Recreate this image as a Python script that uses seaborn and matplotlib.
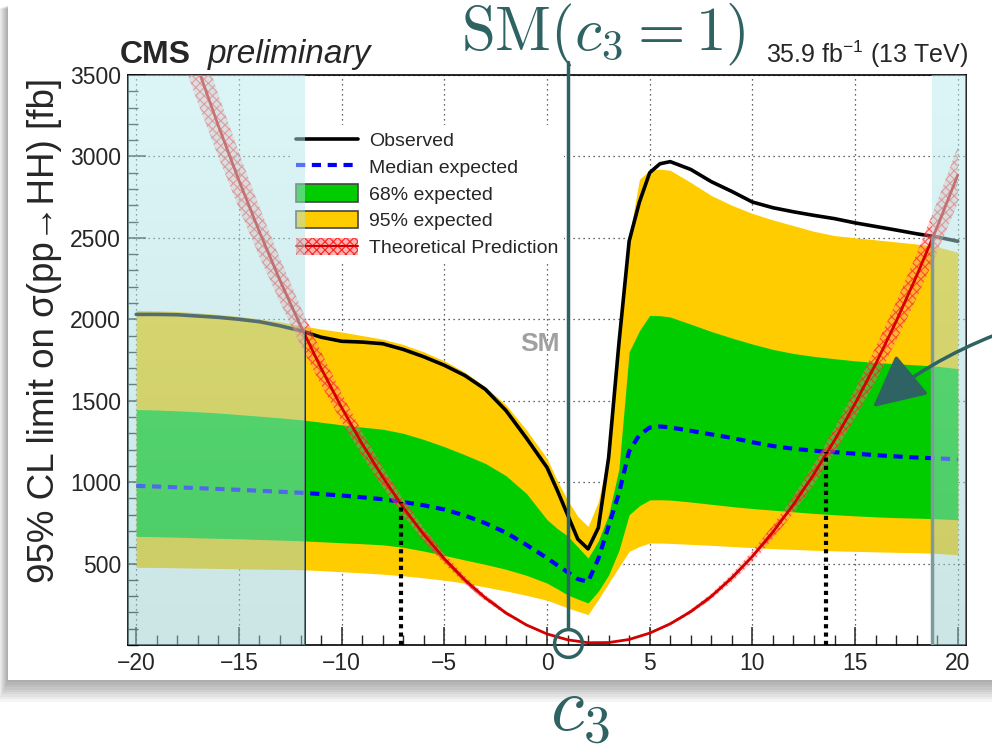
import matplotlib
matplotlib.use("Agg")
import matplotlib.pyplot as plt
from matplotlib.patches import Rectangle, Patch
from matplotlib.lines import Line2D
from matplotlib.ticker import MultipleLocator
import seaborn as sns
import numpy as np
import pandas as pd

# -------------------------
# data
# -------------------------
c3 = [-20, -19, -18, -17, -16, -15, -14, -13, -12, -11, -10, -9, -8, -7, -6, -5, -4, -3, -2, -1, 0,
      0.5, 1, 1.5, 2, 2.5, 3, 3.5, 4, 4.5, 5, 5.5, 6,
      7, 8, 9, 10, 11, 12, 13, 14, 15, 16, 17, 18, 19, 20]

observed = [2030, 2030, 2028, 2020, 2012, 2000, 1985, 1960, 1930, 1890, 1865, 1860, 1850, 1815, 1770, 1718, 1655, 1570, 1440, 1270, 1090,
            950, 800, 650, 590, 720, 1150, 1850, 2480, 2720, 2900, 2955, 2968,
            2920, 2845, 2785, 2720, 2685, 2660, 2638, 2618, 2592, 2570, 2548, 2525, 2505, 2479]

median_exp = [977, 973, 968, 963, 958, 953, 947, 941, 935, 927, 918, 907, 895, 878, 858, 832, 795, 748, 690, 615, 534,
              490, 448, 405, 388, 530, 730, 930, 1190, 1290, 1335, 1342, 1336,
              1315, 1293, 1272, 1245, 1222, 1205, 1193, 1184, 1175, 1166, 1158, 1151, 1146, 1140]

exp68_up = [1446, 1443, 1438, 1432, 1425, 1415, 1405, 1395, 1383, 1368, 1352, 1338, 1325, 1300, 1262, 1218, 1168, 1115, 1040, 930, 770,
            715, 670, 602, 534, 640, 800, 1080, 1800, 1930, 2024, 2022, 2014,
            1970, 1925, 1885, 1848, 1815, 1790, 1772, 1758, 1745, 1735, 1727, 1720, 1712, 1697]

exp68_dn = [667, 665, 662, 658, 655, 652, 648, 644, 640, 634, 628, 622, 615, 600, 577, 550, 522, 495, 465, 428, 380,
            345, 308, 282, 258, 330, 430, 580, 800, 855, 891, 892, 890,
            878, 864, 850, 838, 828, 818, 808, 800, 793, 787, 782, 779, 775, 769]

exp95_up = [2055, 2052, 2048, 2040, 2030, 2018, 2002, 1985, 1962, 1940, 1922, 1900, 1878, 1845, 1800, 1745, 1675, 1585, 1475, 1320, 1145,
            1010, 890, 790, 728, 880, 1180, 1880, 2500, 2860, 2915, 2922, 2915,
            2840, 2760, 2700, 2650, 2610, 2575, 2540, 2514, 2500, 2488, 2475, 2462, 2445, 2412]

exp95_dn = [477, 476, 474, 472, 470, 468, 466, 464, 462, 457, 450, 443, 435, 425, 412, 398, 380, 356, 332, 305, 275,
            252, 228, 207, 187, 280, 380, 478, 575, 605, 626, 626, 624,
            618, 612, 605, 598, 592, 587, 582, 578, 575, 572, 569, 567, 562, 554]

theory_c3 = list(range(-20, 21))
theory = [4714, 4305, 3914, 3542, 3188, 2853, 2537, 2239, 1960, 1700, 1458, 1235, 1031, 845, 678, 530, 400, 289, 197, 123,
          68, 32, 14, 15, 34, 73, 130, 205, 299, 412, 544, 694, 863, 1050, 1257, 1482, 1725, 1987, 2268, 2568, 2886]
theory_unc = 0.06

# expected limits (dotted lines) and observed excluded regions
exp_limit_c3 = [-7.1, 13.6]
exp_limit_xs = [880, 1185]
obs_limit_c3 = [-11.8, 18.75]
obs_limit_xs = [1925, 2510]
sm_c3 = 1

xticks = [-20, -15, -10, -5, 0, 5, 10, 15, 20]
yticks = [500, 1000, 1500, 2000, 2500, 3000, 3500]

df = pd.DataFrame({"c3": c3, "observed": observed, "median": median_exp})
th = pd.DataFrame({"c3": theory_c3, "xs": theory})
th["lo"] = th["xs"] * (1 - theory_unc)
th["hi"] = th["xs"] * (1 + theory_unc)

# -------------------------
# style
# -------------------------
sns.set_style("ticks")
plt.rcParams["font.family"] = ["Liberation Sans", "DejaVu Sans"]
plt.rcParams["mathtext.fontset"] = "custom"
plt.rcParams["mathtext.rm"] = "Liberation Sans"
plt.rcParams["mathtext.it"] = "Liberation Sans:italic"
plt.rcParams["mathtext.bf"] = "Liberation Sans:bold"
plt.rcParams["hatch.linewidth"] = 0.8

teal = "#2f6262"
W, H = 992, 752

fig = plt.figure(figsize=(W / 100, H / 100), dpi=100)
fig.patch.set_facecolor("white")

# screenshot card with a soft shadow
for i in range(9, 0, -1):
    fig.patches.append(Rectangle(((8 - i) / W, (752 - 680 - 2.4 * i) / H), (992 - 8 + 2 * i) / W, (675 + 2 * i) / H,
                                 transform=fig.transFigure, facecolor="black", alpha=0.04,
                                 edgecolor="none", zorder=-3))
fig.patches.append(Rectangle((8 / W, (752 - 680) / H), (992 - 8) / W, 675 / H, transform=fig.transFigure,
                             facecolor="white", edgecolor="none", zorder=-2))

ax = fig.add_axes([128 / W, 107 / H, 838 / W, 570 / H])
ax.set_facecolor("white")

# bands
ax.fill_between(c3, exp95_dn, exp95_up, color="#ffcc00", lw=0, zorder=1)
ax.fill_between(c3, exp68_dn, exp68_up, color="#00cc00", lw=0, zorder=1.1)

sns.lineplot(data=df, x="c3", y="median", ax=ax, color="#0000ff", lw=3,
             linestyle=(0, (2.2, 1.6)), zorder=2)
sns.lineplot(data=df, x="c3", y="observed", ax=ax, color="black", lw=2.6, zorder=2.2)

# theory band
ax.fill_between(th["c3"], th["lo"], th["hi"], facecolor="#ff8a8a", alpha=0.35, lw=0, zorder=2.5)
ax.fill_between(th["c3"], th["lo"], th["hi"], facecolor="none", edgecolor="#ff2020", hatch="xxxx",
                lw=0, alpha=0.7, zorder=2.6)
sns.lineplot(data=th, x="c3", y="xs", ax=ax, color="#d40000", lw=2, zorder=2.7)

ax.vlines(exp_limit_c3, 0, exp_limit_xs, colors="black", linestyles=(0, (1, 1)), lw=3, zorder=3)
ax.vlines(obs_limit_c3[0], 0, obs_limit_xs[0], colors="#222222", lw=1.3, zorder=3)
ax.vlines(obs_limit_c3[1], 0, obs_limit_xs[1], colors="#7f9a9a", lw=2.5, zorder=7)

ax.text(-0.35, 1850, "SM", color="#a0a0a0", fontsize=19, fontweight="bold", ha="center", va="center", zorder=3)

# cyan overlays (vertical gradient)
grad = np.linspace(0, 1, 64)[:, None]
top_c = np.array([185, 235, 239]) / 255
bot_c = np.array([153, 205, 205]) / 255
rgba = np.zeros((64, 1, 4))
rgba[..., :3] = (grad[..., None] * bot_c + (1 - grad[..., None]) * top_c)
rgba[..., 3] = 0.5
for x0, x1 in [(-20.4, obs_limit_c3[0]), (obs_limit_c3[1], 20.4)]:
    ax.imshow(rgba, extent=[x0, x1, 0, 3500], aspect="auto", origin="upper", zorder=6, interpolation="bilinear")
ax.set_xlim(-20.4, 20.4)
ax.set_ylim(0, 3500)

# axes cosmetics
ax.set_xticks(xticks)
ax.set_yticks(yticks)
ax.xaxis.set_minor_locator(MultipleLocator(1))
ax.yaxis.set_minor_locator(MultipleLocator(100))
ax.tick_params(which="major", direction="in", length=13, width=1.1, labelsize=16.5, pad=5,
               top=False, right=False)
ax.tick_params(which="minor", direction="in", length=7, width=1.0, top=False, right=False)
ax.grid(True, which="major", color="#333333", linestyle=(0, (1, 3)), lw=0.9)
ax.set_axisbelow(True)
for s in ax.spines.values():
    s.set_color("black")
    s.set_linewidth(1.2)
ax.set_xlabel("")
ax.set_ylabel("")

# legend
handles = [
    Line2D([], [], color="black", lw=2.6),
    Line2D([], [], color="#0000ff", lw=3, linestyle=(0, (2.2, 1.6))),
    Patch(facecolor="#00cc00", edgecolor="#444444", lw=1.2),
    Patch(facecolor="#ffcc00", edgecolor="#444444", lw=1.2),
    (Patch(facecolor="#ffb0b0", edgecolor="#ff2020", hatch="xxxx", lw=0),
     Line2D([], [], color="#d40000", lw=1.5)),
]
labels = ["Observed", "Median expected", "68% expected", "95% expected", "Theoretical Prediction"]
leg = ax.legend(handles, labels, loc="upper left",
                bbox_to_anchor=((290 - 128) / 838, (645 - 125) / 570),
                fontsize=14, frameon=True, facecolor="white", edgecolor="none", framealpha=1,
                fancybox=False, handlelength=3.2, handleheight=1.0, labelspacing=0.38,
                handletextpad=0.55, borderpad=0.3, borderaxespad=0)
leg.set_zorder(5)

# labels around the frame
fig.text(45 / W, 1 - 78 / H, "95% CL limit on σ(pp→HH) [fb]", rotation=90, ha="center", va="top", fontsize=26.5)
fig.text(120 / W, 1 - 63 / H, "CMS", fontweight="bold", fontsize=23, va="baseline")
fig.text(208 / W, 1 - 63 / H, "preliminary", fontstyle="italic", fontsize=24, va="baseline")
fig.text(968 / W, 1 - 63 / H, r"35.9 fb$^{-1}$ (13 TeV)", ha="right", fontsize=18, va="baseline")

# hand-drawn annotations
fig.text(603 / W, 1 - 50 / H, r"$\mathrm{SM}(c_3 = 1)$", math_fontfamily="cm", fontsize=44,
         color=teal, ha="center", va="baseline")
fig.text(580 / W, 1 - 731 / H, r"$c_3$", math_fontfamily="cm", fontsize=55,
         color=teal, ha="center", va="baseline")
ax.plot([sm_c3, sm_c3], [1.023, 0.03], transform=ax.get_xaxis_transform(), color=teal, lw=2.5,
        clip_on=False, zorder=8)
ax.plot([sm_c3], [0.003], transform=ax.get_xaxis_transform(), marker="o", markersize=20,
        markerfacecolor="none", markeredgecolor=teal, markeredgewidth=2.5, clip_on=False, zorder=8)
ax.annotate("", xy=(873 / W, 1 - 407 / H), xycoords="figure fraction",
            xytext=(995 / W, 1 - 335 / H), textcoords="figure fraction",
            arrowprops=dict(arrowstyle="-|>,head_length=1.3,head_width=0.65", mutation_scale=25,
                            color=teal, lw=2.5, shrinkA=0, shrinkB=0,
                            connectionstyle="arc3,rad=0.08"), zorder=8)

fig.savefig("out.png", dpi=100)
